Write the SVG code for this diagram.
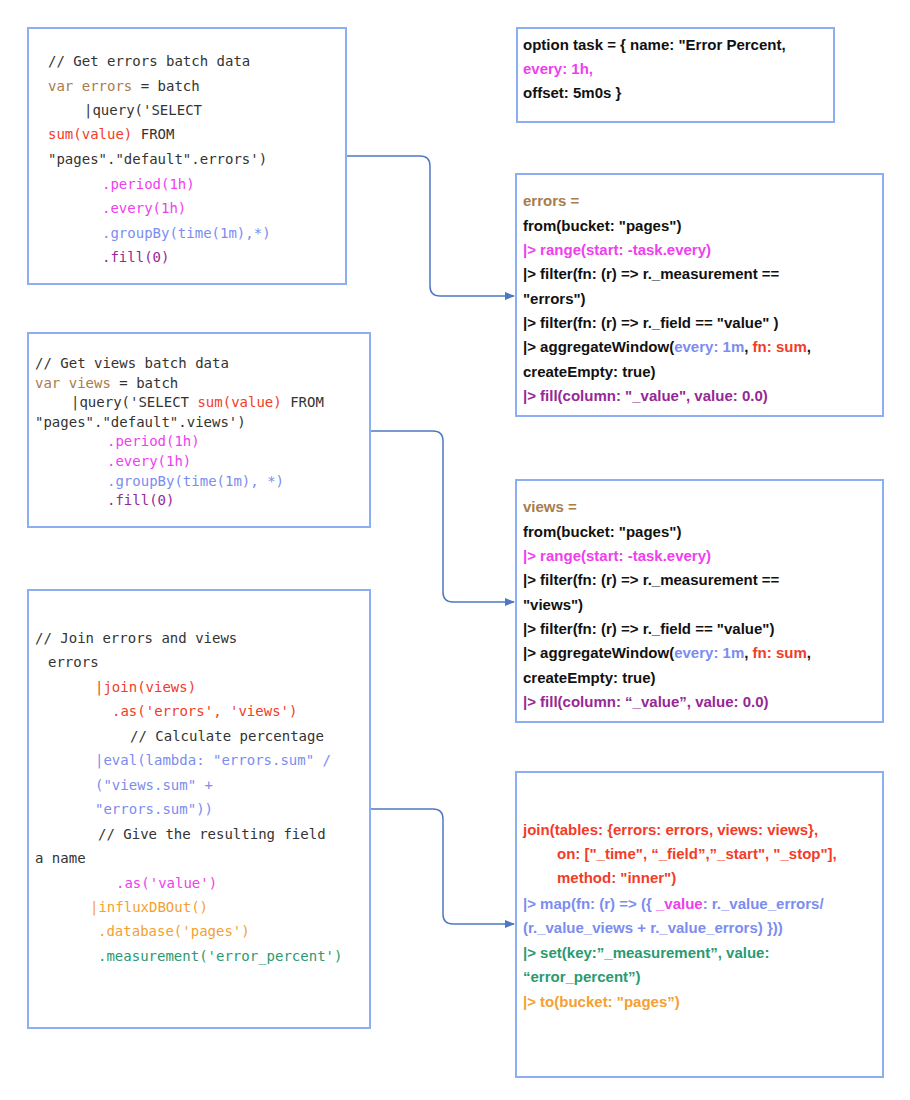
<svg xmlns="http://www.w3.org/2000/svg" width="910" height="1100" viewBox="0 0 910 1100">
<style>
.box{fill:#fff;stroke:#8caef2;stroke-width:2}
.m{font-family:"DejaVu Sans Mono",monospace;font-size:14px;fill:#333;white-space:pre}
.f{font-family:"Liberation Sans",Arial,sans-serif;font-size:15px;font-weight:bold;fill:#111;white-space:pre}
.br{fill:#a87c4c}.rd{fill:#f23c28}.mg{fill:#f040ee}.bl{fill:#7b8df0}.pu{fill:#962896}.or{fill:#f5a033}.gr{fill:#2a9a72}
.c{fill:none;stroke:#4f78c4;stroke-width:1.5}
</style>
<defs><marker id="ar" markerWidth="10" markerHeight="8" refX="9" refY="4" orient="auto" markerUnits="userSpaceOnUse"><path d="M0,0 L10,4 L0,8 z" fill="#4f78c4"/></marker></defs>
<rect width="910" height="1100" fill="#fff"/>
<g id="connectors">
<path class="c" d="M346,156 H420 Q430,156 430,166 V286 Q430,296 440,296 H514" marker-end="url(#ar)"/>
<path class="c" d="M370,431 H433 Q443,431 443,441 V592 Q443,602 453,602 H514" marker-end="url(#ar)"/>
<path class="c" d="M370,809 H433 Q443,809 443,819 V914 Q443,924 453,924 H514" marker-end="url(#ar)"/>
</g>
<g id="kapacitor-errors">
<rect class="box" x="28" y="28" width="318" height="256"/>
<text class="m" x="48" y="66">// Get errors batch data</text>
<text class="m" x="48" y="91"><tspan class="br">var errors</tspan> = batch</text>
<text class="m" x="84" y="115">|query('SELECT</text>
<text class="m" x="48" y="139"><tspan class="rd">sum(value)</tspan> FROM</text>
<text class="m" x="48" y="164">"pages"."default".errors')</text>
<text class="m mg" x="102" y="189">.period(1h)</text>
<text class="m mg" x="102" y="213">.every(1h)</text>
<text class="m bl" x="102" y="238">.groupBy(time(1m),*)</text>
<text class="m pu" x="102" y="262">.fill(0)</text>
</g>
<g id="flux-option">
<rect class="box" x="517" y="28" width="317" height="94"/>
<text class="f" x="523" y="50">option task = { name: "Error Percent,</text>
<text class="f mg" x="523" y="74">every: 1h,</text>
<text class="f" x="523" y="98">offset: 5m0s }</text>
</g>
<g id="flux-errors">
<rect class="box" x="516" y="174" width="367" height="242"/>
<text class="f br" x="523" y="206">errors =</text>
<text class="f" x="523" y="231">from(bucket: "pages")</text>
<text class="f mg" x="523" y="255">|&gt; range(start: -task.every)</text>
<text class="f" x="523" y="279">|&gt; filter(fn: (r) =&gt; r._measurement ==</text>
<text class="f" x="523" y="304">"errors")</text>
<text class="f" x="523" y="328">|&gt; filter(fn: (r) =&gt; r._field == "value" )</text>
<text class="f" x="523" y="352">|&gt; aggregateWindow(<tspan class="bl">every: 1m</tspan>, <tspan class="rd">fn: sum</tspan>,</text>
<text class="f" x="523" y="377">createEmpty: true)</text>
<text class="f pu" x="523" y="401">|&gt; fill(column: "_value", value: 0.0)</text>
</g>
<g id="kapacitor-views">
<rect class="box" x="28" y="333" width="342" height="194"/>
<text class="m" x="35" y="368">// Get views batch data</text>
<text class="m" x="35" y="388"><tspan class="br">var views</tspan> = batch</text>
<text class="m" x="71" y="407">|query('SELECT <tspan class="rd">sum(value)</tspan> FROM</text>
<text class="m" x="35" y="427">"pages"."default".views')</text>
<text class="m mg" x="107" y="446">.period(1h)</text>
<text class="m mg" x="107" y="466">.every(1h)</text>
<text class="m bl" x="107" y="486">.groupBy(time(1m), *)</text>
<text class="m pu" x="107" y="505">.fill(0)</text>
</g>
<g id="flux-views">
<rect class="box" x="516" y="480" width="367" height="242"/>
<text class="f br" x="523" y="512">views =</text>
<text class="f" x="523" y="537">from(bucket: "pages")</text>
<text class="f mg" x="523" y="561">|&gt; range(start: -task.every)</text>
<text class="f" x="523" y="585">|&gt; filter(fn: (r) =&gt; r._measurement ==</text>
<text class="f" x="523" y="610">"views")</text>
<text class="f" x="523" y="634">|&gt; filter(fn: (r) =&gt; r._field == "value")</text>
<text class="f" x="523" y="658">|&gt; aggregateWindow(<tspan class="bl">every: 1m</tspan>, <tspan class="rd">fn: sum</tspan>,</text>
<text class="f" x="523" y="683">createEmpty: true)</text>
<text class="f pu" x="523" y="707">|&gt; fill(column: “_value”, value: 0.0)</text>
</g>
<g id="kapacitor-join">
<rect class="box" x="28" y="590" width="342" height="438"/>
<text class="m" x="35" y="643">// Join errors and views</text>
<text class="m" x="48" y="667">errors</text>
<text class="m rd" x="95" y="692">|join(views)</text>
<text class="m rd" x="112" y="716">.as('errors', 'views')</text>
<text class="m" x="130" y="741">// Calculate percentage</text>
<text class="m bl" x="95" y="765">|eval(lambda: "errors.sum" /</text>
<text class="m bl" x="95" y="790">("views.sum" +</text>
<text class="m bl" x="95" y="814">"errors.sum"))</text>
<text class="m" x="98" y="839">// Give the resulting field</text>
<text class="m" x="35" y="863">a name</text>
<text class="m mg" x="116" y="888">.as('value')</text>
<text class="m or" x="90" y="912">|influxDBOut()</text>
<text class="m or" x="98" y="936">.database('pages')</text>
<text class="m gr" x="98" y="961">.measurement('error_percent')</text>
</g>
<g id="flux-join">
<rect class="box" x="516" y="772" width="367" height="305"/>
<text class="f rd" x="523" y="835">join(tables: {errors: errors, views: views},</text>
<text class="f rd" x="557" y="859">on: ["_time", “_field”,”_start", "_stop"],</text>
<text class="f rd" x="557" y="883">method: "inner")</text>
<text class="f bl" x="523" y="909">|&gt; map(fn: (r) =&gt; ({ <tspan class="mg">_value</tspan>: r._value_errors/</text>
<text class="f bl" x="523" y="933">(r._value_views + r._value_errors) }))</text>
<text class="f gr" x="523" y="958">|&gt; set(key:”_measurement”, value:</text>
<text class="f gr" x="523" y="982">“error_percent”)</text>
<text class="f or" x="523" y="1007">|&gt; to(bucket: "pages”)</text>
</g>
</svg>
